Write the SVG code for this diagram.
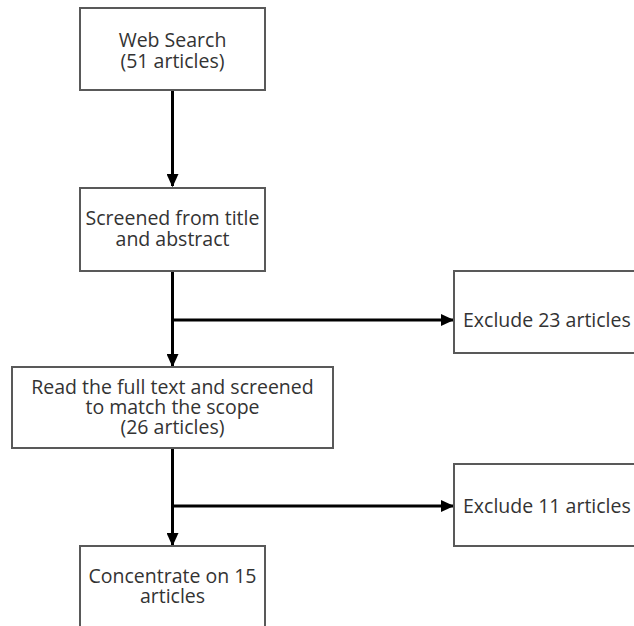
<svg xmlns="http://www.w3.org/2000/svg" width="634" height="626" viewBox="0 0 634 626">
<style>
.box{fill:#ffffff;stroke:#595959;stroke-width:2}
.t{font-family:"Open Sans","Noto Sans",sans-serif;font-size:19.5px;fill:#333333}
.c{text-anchor:middle}
.con{stroke:#000000;stroke-width:3;fill:none}
</style>
<defs>
<marker id="ah" markerWidth="4.4" markerHeight="4" refX="4" refY="2" orient="auto" markerUnits="strokeWidth">
<path d="M0,0 L4.4,2 L0,4 Z" fill="#000000"/>
</marker>
</defs>
<rect width="634" height="626" fill="#ffffff"/>
<g id="connectors">
<line class="con" x1="172.5" y1="90" x2="172.5" y2="186" marker-end="url(#ah)"/>
<line class="con" x1="172.5" y1="271" x2="172.5" y2="366" marker-end="url(#ah)"/>
<line class="con" x1="172.5" y1="320" x2="453" y2="320" marker-end="url(#ah)"/>
<line class="con" x1="172.5" y1="448" x2="172.5" y2="545" marker-end="url(#ah)"/>
<line class="con" x1="172.5" y1="506" x2="453" y2="506" marker-end="url(#ah)"/>
</g>
<g id="web-search">
<rect class="box" x="80" y="8" width="185" height="82"/>
<text class="t c" x="172.5" y="47">Web Search</text>
<text class="t c" x="172.5" y="68">(51 articles)</text>
</g>
<g id="screened">
<rect class="box" x="80" y="188" width="185" height="83"/>
<text class="t c" x="172.5" y="225">Screened from title</text>
<text class="t c" x="172.5" y="246">and abstract</text>
</g>
<g id="read-full-text">
<rect class="box" x="12" y="367" width="321" height="81"/>
<text class="t c" x="172.5" y="394">Read the full text and screened</text>
<text class="t c" x="172.5" y="414">to match the scope</text>
<text class="t c" x="172.5" y="434">(26 articles)</text>
</g>
<g id="exclude-23">
<rect class="box" x="454" y="271" width="200" height="82"/>
<text class="t" x="463" y="327">Exclude 23 articles</text>
</g>
<g id="exclude-11">
<rect class="box" x="454" y="464" width="200" height="82"/>
<text class="t" x="463" y="513">Exclude 11 articles</text>
</g>
<g id="concentrate">
<rect class="box" x="80" y="546" width="185" height="84"/>
<text class="t c" x="172.5" y="583">Concentrate on 15</text>
<text class="t c" x="172.5" y="603">articles</text>
</g>
</svg>
